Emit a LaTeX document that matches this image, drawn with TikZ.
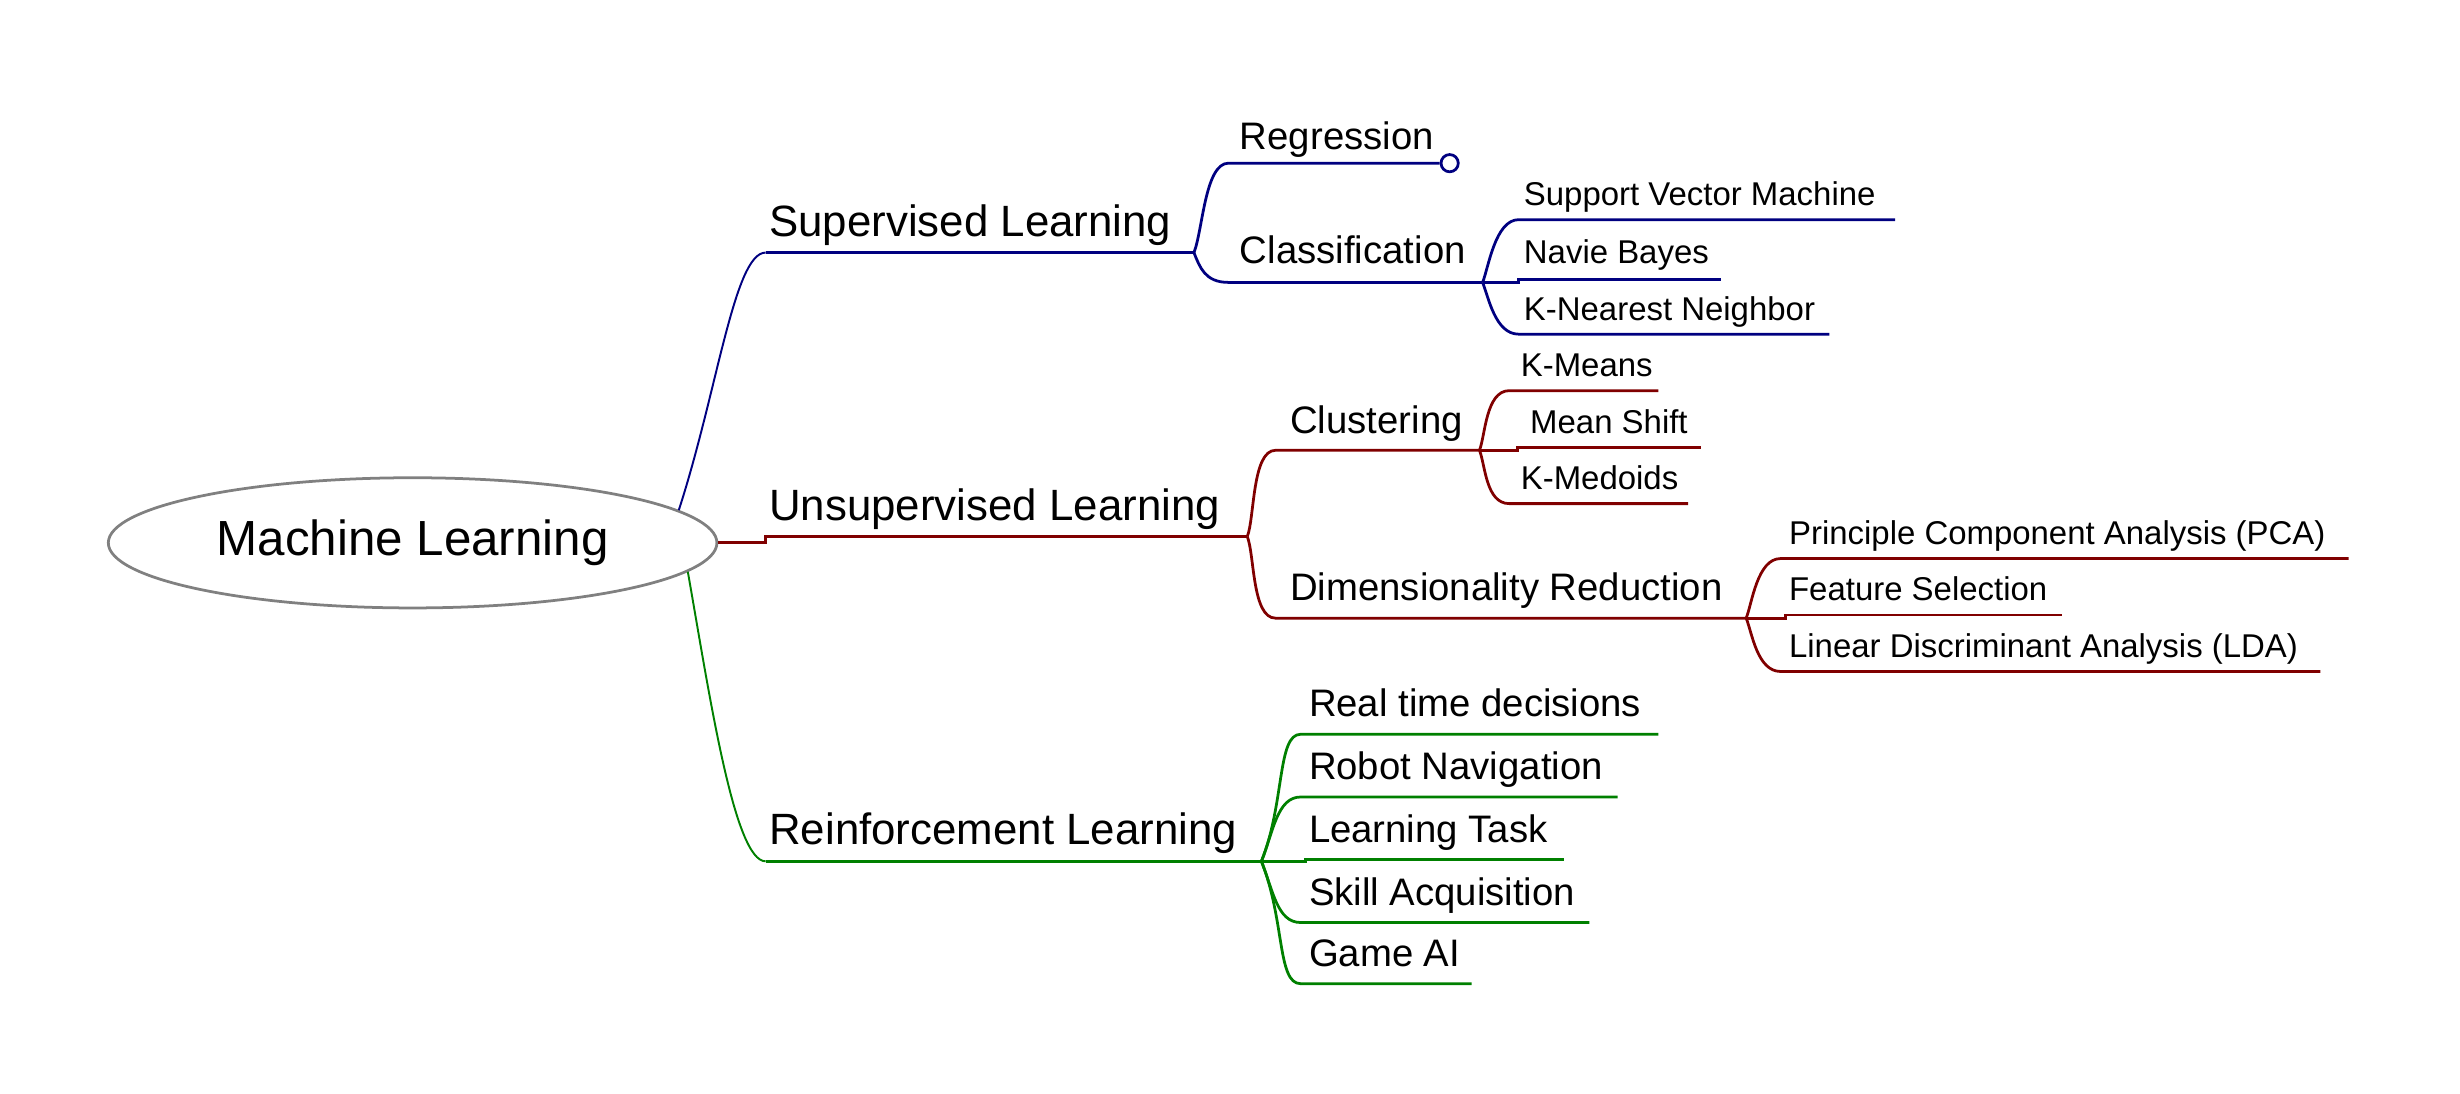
\documentclass[tikz,border=0pt]{standalone}
\usepackage{fontspec}
\setmainfont{Liberation Sans}
\usetikzlibrary{shapes.geometric}
\definecolor{supc}{RGB}{0,0,128}
\definecolor{unsc}{RGB}{128,0,0}
\definecolor{reic}{RGB}{0,128,0}

\begin{document}
\begin{tikzpicture}[x=0.02cm, y=0.02cm,
  root/.style={draw=gray, line width=1pt, ellipse, minimum width=7.76cm,
               minimum height=1.66cm, inner sep=0pt, font=\fontsize{17.9}{20}\selectfont},
  t1/.style={anchor=base west, inner sep=0pt, font=\fontsize{15.9}{18}\selectfont},
  t2/.style={anchor=base west, inner sep=0pt, font=\fontsize{13.9}{16}\selectfont},
  t3/.style={anchor=base west, inner sep=0pt, font=\fontsize{11.95}{14}\selectfont},
  sup/.style={draw=supc, line width=1pt},
  uns/.style={draw=unsc, line width=1pt},
  rei/.style={draw=reic, line width=1pt},
  trunk/.style={line width=0.7pt},
  roothi/.style={out=72, in=180, out distance=1.6cm, in distance=0.4cm},
  rootlo/.style={out=-80, in=180, out distance=1.6cm, in distance=0.4cm},
  brup/.style={out=68, in=180, out distance=#1, in distance=0.3cm},
  brup/.default=0.2cm,
  brdn/.style={out=-68, in=180, out distance=#1, in distance=0.3cm},
  brdn/.default=0.2cm,
]
\useasboundingbox (0,0) rectangle (1568,-697);
\node[root] (ml) at (263,-346) {Machine Learning};

% supervised
\coordinate (sup-s) at (488,-161);  \coordinate (sup-e) at (761,-161);
\coordinate (reg-s) at (783,-104);
\coordinate (cls-s) at (783,-180);  \coordinate (cls-e) at (945,-180);
\coordinate (svm-s) at (968,-140);  \coordinate (svm-e) at (1208,-140);
\coordinate (nb-s) at (968,-178);   \coordinate (nb-e) at (1097,-178);
\coordinate (knn-s) at (968,-213);  \coordinate (knn-e) at (1166,-213);
\node[t1] (sup) at (490,-151) {Supervised Learning};
\node[t2] (reg) at (790,-95) {Regression};
\node[t2] (cls) at (790,-168) {Classification};
\node[t3] (svm) at (971,-131) {Support Vector Machine};
\node[t3] (nb) at (971,-168) {Navie Bayes};
\node[t3] (knn) at (971,-204) {K-Nearest Neighbor};
\node[sup, circle, fill=white, minimum size=0.22cm, inner sep=0pt] (reg-o) at (924,-104) {};
\draw[sup, trunk] (ml.7) to[roothi] (sup-s);
\draw[sup] (sup-s) -- (sup-e);
\draw[sup] (sup-e) to[brup=0.3cm] (reg-s) -- (reg-o);
\draw[sup] (sup-e) to[brdn] (cls-s) -- (cls-e);
\draw[sup] (cls-e) to[brup] (svm-s) -- (svm-e);
\draw[sup] (cls-e) -- (cls-e -| nb-s) -- (nb-s) -- (nb-e);
\draw[sup] (cls-e) to[brdn] (knn-s) -- (knn-e);

% unsupervised
\coordinate (us-s) at (488,-342);   \coordinate (us-e) at (795,-342);
\coordinate (clu-s) at (813,-287);  \coordinate (clu-e) at (943,-287);
\coordinate (km-s) at (962,-249);   \coordinate (km-e) at (1057,-249);
\coordinate (ms-s) at (967,-285);   \coordinate (ms-e) at (1084,-285);
\coordinate (kmd-s) at (962,-321);  \coordinate (kmd-e) at (1076,-321);
\coordinate (dr-s) at (813,-394);   \coordinate (dr-e) at (1113,-394);
\coordinate (pca-s) at (1135,-356); \coordinate (pca-e) at (1497,-356);
\coordinate (fs-s) at (1138,-392);  \coordinate (fs-e) at (1314,-392);
\coordinate (lda-s) at (1135,-428); \coordinate (lda-e) at (1479,-428);
\node[t1] (us) at (490,-332) {Unsupervised Learning};
\node[t2] (clu) at (822,-276) {Clustering};
\node[t3] (km) at (969,-240) {K-Means};
\node[t3] (ms) at (975,-276) {Mean Shift};
\node[t3] (kmd) at (969,-312) {K-Medoids};
\node[t2] (dr) at (822,-383) {Dimensionality Reduction};
\node[t3] (pca) at (1140,-347) {Principle Component Analysis (PCA)};
\node[t3] (fs) at (1140,-383) {Feature Selection};
\node[t3] (lda) at (1140,-419) {Linear Discriminant Analysis (LDA)};
\draw[uns] (ml.east) -- (ml.east -| us-s) -- (us-s) -- (us-e);
\draw[uns] (us-e) to[brup=0.25cm] (clu-s) -- (clu-e);
\draw[uns] (us-e) to[brdn=0.25cm] (dr-s) -- (dr-e);
\draw[uns] (clu-e) to[brup] (km-s) -- (km-e);
\draw[uns] (clu-e) -- (clu-e -| ms-s) -- (ms-s) -- (ms-e);
\draw[uns] (clu-e) to[brdn] (kmd-s) -- (kmd-e);
\draw[uns] (dr-e) to[brup] (pca-s) -- (pca-e);
\draw[uns] (dr-e) -- (dr-e -| fs-s) -- (fs-s) -- (fs-e);
\draw[uns] (dr-e) to[brdn] (lda-s) -- (lda-e);

% reinforcement
\coordinate (re-s) at (488,-549);   \coordinate (re-e) at (804,-549);
\coordinate (rtd-s) at (829,-468);  \coordinate (rtd-e) at (1057,-468);
\coordinate (rn-s) at (829,-508);   \coordinate (rn-e) at (1031,-508);
\coordinate (lt-s) at (832,-548);   \coordinate (lt-e) at (997,-548);
\coordinate (sa-s) at (829,-588);   \coordinate (sa-e) at (1013,-588);
\coordinate (ga-s) at (829,-627);   \coordinate (ga-e) at (938,-627);
\node[t1] (re) at (490,-538) {Reinforcement Learning};
\node[t2] (rtd) at (834,-457) {Real time decisions};
\node[t2] (rn) at (834,-497) {Robot Navigation};
\node[t2] (lt) at (834,-537) {Learning Task};
\node[t2] (sa) at (834,-577) {Skill Acquisition};
\node[t2] (ga) at (834,-616) {Game AI};
\draw[rei, trunk] (ml.-6) to[rootlo] (re-s);
\draw[rei] (re-s) -- (re-e);
\draw[rei] (re-e) to[brup=0.8cm] (rtd-s) -- (rtd-e);
\draw[rei] (re-e) to[brup=0.4cm] (rn-s) -- (rn-e);
\draw[rei] (re-e) -- (re-e -| lt-s) -- (lt-s) -- (lt-e);
\draw[rei] (re-e) to[brdn=0.4cm] (sa-s) -- (sa-e);
\draw[rei] (re-e) to[brdn=0.8cm] (ga-s) -- (ga-e);
\end{tikzpicture}
\end{document}
